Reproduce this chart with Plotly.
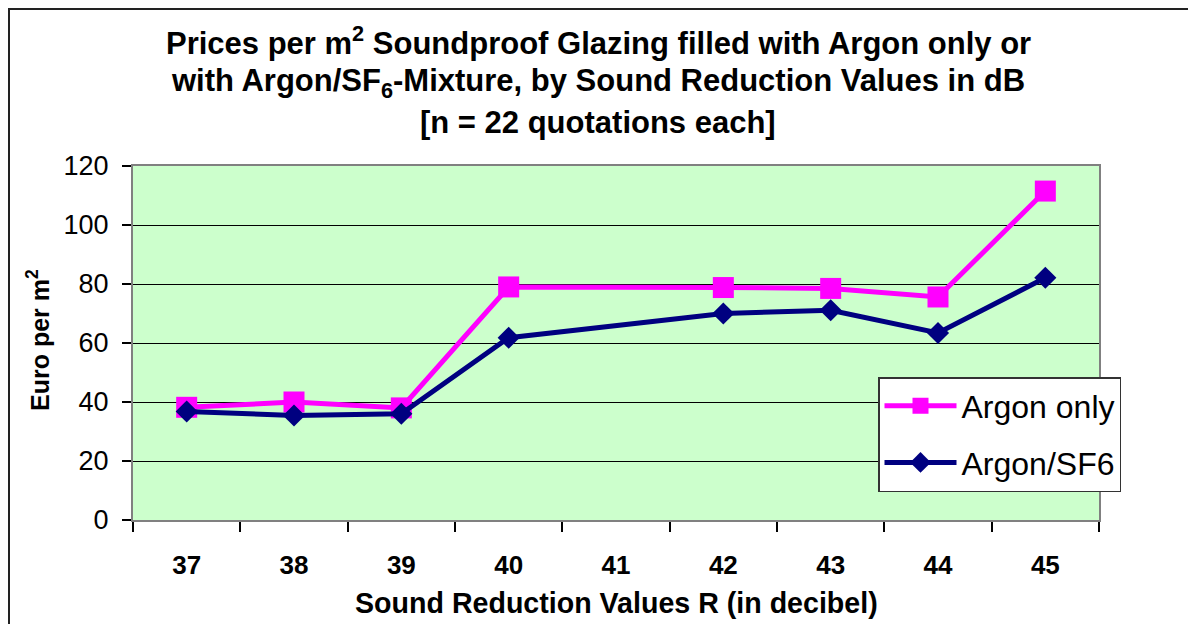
import plotly.graph_objects as go

categories = ["37", "38", "39", "40", "41", "42", "43", "44", "45"]
argon_only = [38.2, 40.0, 38.0, 79.0, None, 78.8, 78.5, 75.6, 111.5]
argon_sf6 = [36.8, 35.4, 36.0, 61.8, None, 70.0, 71.1, 63.4, 82.1]
y_ticks = [0, 20, 40, 60, 80, 100, 120]

FONT = "Liberation Sans, Arial, sans-serif"

fig = go.Figure()
fig.add_trace(go.Scatter(
    x=categories, y=argon_only, name="Argon only", mode="lines+markers",
    connectgaps=True, legendgroup="a",
    line=dict(color="#FF00FF", width=5),
    marker=dict(symbol="square", size=21, color="#FF00FF"),
))
fig.add_trace(go.Scatter(
    x=categories, y=argon_sf6, name="Argon/SF6", mode="lines+markers",
    connectgaps=True, legendgroup="b",
    line=dict(color="#000080", width=5),
    marker=dict(symbol="diamond", size=17, color="#000080"),
))

# page offset (browser body margin)
OFF = 8
IMG_W, IMG_H = 1196, 624
W, H = IMG_W - OFF, IMG_H - OFF
PL, PR, PT, PB = 133, 1099, 166, 520  # plot area in image pixels
L, T = PL - OFF, PT - OFF
R = W - (PR - OFF)
B = H - (PB - OFF)
pw, ph = PR - PL, PB - PT

def px_x(p):
    return (p - PL) / pw

def px_y(p):
    return (PB - p) / ph

fig.update_layout(
    width=W, height=H,
    margin=dict(l=L, r=R, t=T, b=B, pad=0),
    paper_bgcolor="white",
    plot_bgcolor="#CCFFCC",
    font=dict(family=FONT, color="black"),
    showlegend=True,
    legend=dict(
        x=px_x(878), y=px_y(377), xanchor="left", yanchor="top",
        bgcolor="white", bordercolor="#333333", borderwidth=1.5,
        font=dict(size=32, family=FONT, color="black"),
        itemwidth=72, tracegroupgap=12,
    ),
    xaxis=dict(
        type="category", categoryorder="array", categoryarray=categories,
        range=[-0.5, len(categories) - 0.5], autorange=False,
        tickson="boundaries", ticks="outside", ticklen=10, tickwidth=1.5,
        tickcolor="black", showgrid=False,
        showline=True, linecolor="#808080", linewidth=2, mirror=True,
        tickfont=dict(size=26, family=FONT, color="black", weight="bold"),
        ticklabelstandoff=21,
    ),
    yaxis=dict(
        range=[0, 120], autorange=False, tickvals=y_ticks, ticks="outside",
        ticklen=9, tickwidth=1.5, tickcolor="black",
        showgrid=True, gridcolor="black", gridwidth=1,
        zeroline=False,
        showline=True, linecolor="#808080", linewidth=2, mirror=True,
        tickfont=dict(size=27, family=FONT, color="black"),
        ticklabelstandoff=8,
    ),
)

cx = px_x(598)
title_lines = [
    ("Prices per m<sup>2</sup> Soundproof Glazing filled with Argon only or", 41),
    ("with Argon/SF<sub>6</sub>-Mixture, by Sound Reduction Values in dB", 83),
    ("[n = 22 quotations each]", 123),
]
for txt, yp in title_lines:
    fig.add_annotation(
        text=f"<b>{txt}</b>", x=cx, y=px_y(yp), xref="paper", yref="paper",
        xanchor="center", yanchor="middle", showarrow=False,
        font=dict(size=31, family=FONT, color="black"),
    )

fig.add_annotation(
    text="<b>Sound Reduction Values R (in decibel)</b>",
    x=0.5, y=px_y(603), xref="paper", yref="paper",
    xanchor="center", yanchor="middle", showarrow=False,
    font=dict(size=28.6, family=FONT, color="black"),
)
fig.add_annotation(
    text="<b>Euro per m<sup>2</sup></b>",
    x=px_x(38), y=px_y(340), xref="paper", yref="paper",
    xanchor="center", yanchor="middle", showarrow=False, textangle=-90,
    font=dict(size=25, family=FONT, color="black"),
)

# outer chart frame
fig.add_shape(
    type="rect", xref="paper", yref="paper",
    x0=px_x(9), x1=px_x(1194), y0=px_y(660), y1=px_y(9),
    line=dict(color="#222222", width=2), layer="below",
)

fig.write_html("out.html")
